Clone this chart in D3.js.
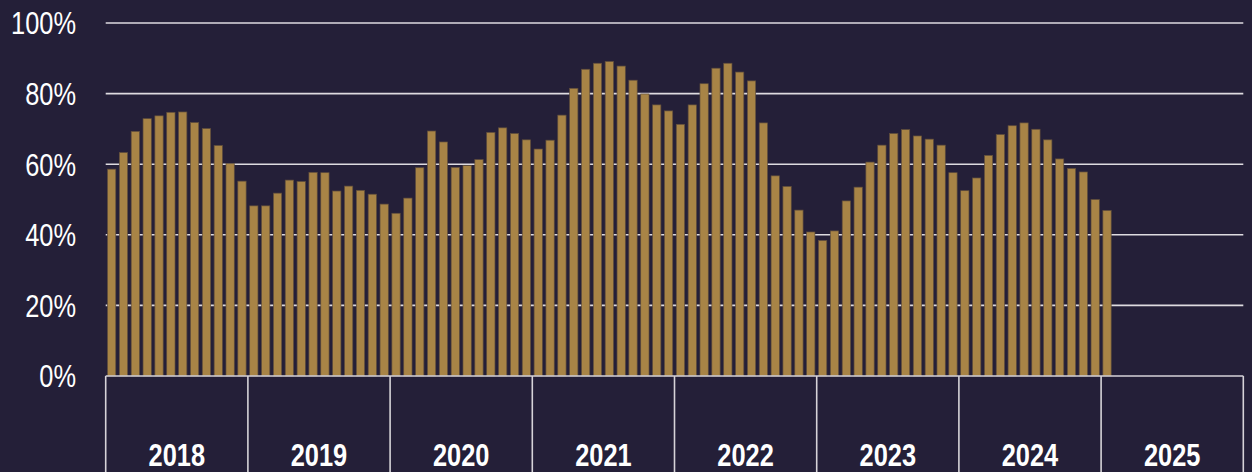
<!DOCTYPE html>
<html>
<head>
<meta charset="utf-8">
<script src="https://cdn.jsdelivr.net/npm/d3@7"></script>
<style>
  html, body { margin: 0; padding: 0; background: #241f38; }
  svg { display: block; }
</style>
</head>
<body>
<svg id="chart" width="1252" height="472"></svg>
<script>
const years = ["2018", "2019", "2020", "2021", "2022", "2023", "2024", "2025"];
const monthNames = ["Jan","Feb","Mar","Apr","May","Jun","Jul","Aug","Sep","Oct","Nov","Dec"];
const yTicks = [0, 20, 40, 60, 80, 100];
// Monthly values (%), Jan 2018 – Jan 2025
const values = [
  58.6, 63.3, 69.3, 72.9, 73.7, 74.7, 74.8, 71.8, 70.1, 65.3, 60.2, 55.2,   // 2018
  48.2, 48.2, 51.8, 55.5, 55.1, 57.7, 57.6, 52.4, 53.8, 52.6, 51.5, 48.7,   // 2019
  46.1, 50.4, 59.0, 69.4, 66.3, 59.1, 59.6, 61.3, 69.0, 70.3, 68.7, 66.9,   // 2020
  64.3, 66.8, 73.9, 81.5, 86.9, 88.6, 89.1, 87.8, 83.8, 79.9, 76.8, 75.1,   // 2021
  71.3, 76.8, 82.8, 87.2, 88.6, 86.1, 83.6, 71.7, 56.7, 53.7, 47.0, 40.8,   // 2022
  38.4, 41.1, 49.6, 53.5, 60.6, 65.4, 68.7, 69.8, 68.0, 67.1, 65.4, 57.6,   // 2023
  52.5, 56.1, 62.5, 68.4, 70.9, 71.7, 69.9, 66.9, 61.5, 58.8, 57.8, 50.0,   // 2024
  46.9                                                                      // 2025
];

const months = [];
years.forEach(yr => monthNames.forEach(m => months.push(yr + "-" + m)));
const data = values.map((v, i) => ({ month: months[i], value: v }));

const svg = d3.select("#chart");
const mLeft = 105.7, mRight = 1243.3, mTop = 23, mBottom = 376, H = 472;

const x = d3.scaleBand().domain(months).range([mLeft, mRight]).paddingInner(0.3).paddingOuter(0.15);
const xYear = d3.scaleBand().domain(years).range([mLeft, mRight]).padding(0);
const y = d3.scaleLinear().domain([0, 100]).range([mBottom, mTop]);

const fontFam = "'Liberation Sans', Arial, sans-serif";
const squeeze = "scale(0.82,1)";

// Gridlines
svg.append("g")
  .selectAll("line")
  .data(yTicks.filter(t => t > 0))
  .join("line")
  .attr("x1", mLeft).attr("x2", mRight)
  .attr("y1", d => y(d)).attr("y2", d => y(d))
  .attr("stroke", "#dedbe0").attr("stroke-width", 1.6);

// Y axis labels
const yAxis = d3.axisLeft(y).tickValues(yTicks).tickSize(0).tickPadding(0).tickFormat(d => d + "%");
const gy = svg.append("g").attr("transform", `translate(${76},0)`).call(yAxis);
gy.select(".domain").remove();
gy.selectAll("text")
  .attr("x", 0)
  .attr("fill", "#ffffff")
  .attr("font-family", fontFam)
  .attr("font-size", 31)
  .attr("dy", "0.35em")
  .attr("transform", squeeze);

// Bars
svg.append("g")
  .selectAll("rect")
  .data(data)
  .join("rect")
  .attr("x", d => x(d.month))
  .attr("width", x.bandwidth())
  .attr("y", d => y(d.value))
  .attr("height", d => y(0) - y(d.value))
  .attr("fill", "#a88446")
  .attr("stroke", "#5f4d3c")
  .attr("stroke-width", 0.7);

// X axis baseline
svg.append("line")
  .attr("x1", mLeft).attr("x2", mRight)
  .attr("y1", mBottom).attr("y2", mBottom)
  .attr("stroke", "#d6d3d8").attr("stroke-width", 1.6);

// Year separators
const bounds = years.map(yr => xYear(yr)).concat([mRight]);
svg.append("g")
  .selectAll("line")
  .data(bounds)
  .join("line")
  .attr("x1", d => d).attr("x2", d => d)
  .attr("y1", mBottom).attr("y2", H)
  .attr("stroke", "#d6d3d8").attr("stroke-width", 1.6);

// Year labels
const xAxis = d3.axisBottom(xYear).tickSize(0).tickPadding(0);
const gx = svg.append("g").attr("transform", `translate(0,${466})`).call(xAxis);
gx.select(".domain").remove();
gx.selectAll("text")
  .attr("fill", "#ffffff")
  .attr("font-family", fontFam)
  .attr("font-weight", "bold")
  .attr("font-size", 31)
  .attr("dy", 0)
  .attr("y", 0)
  .attr("transform", squeeze);
</script>
</body>
</html>
